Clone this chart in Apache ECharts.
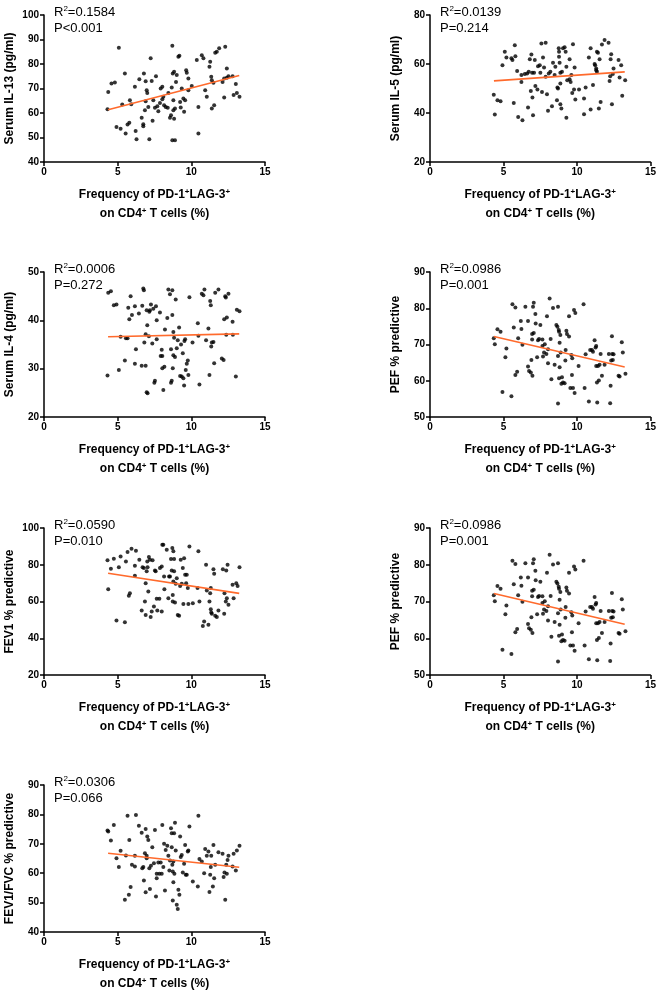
<!DOCTYPE html>
<html>
<head>
<meta charset="utf-8">
<script src="https://cdn.jsdelivr.net/npm/echarts@6/dist/echarts.min.js"></script>
<style>
  html,body{margin:0;padding:0;background:#fff;}
  #main{width:659px;height:993px;}
</style>
</head>
<body>
<div id="main"></div>
<script>
// x = frequency of PD-1+LAG-3+ on CD4+ T cells (%), y = measured value
var il13Pts = [[4.36,68.6],[4.31,61.5],[4.58,72.0],[4.81,72.5],[5.08,86.6],[4.92,54.3],[5.20,53.6],[5.31,63.5],[5.54,51.6],[5.49,76.1],
  [5.67,55.3],[5.79,56.0],[5.83,65.2],[5.92,63.6],[6.17,70.7],[6.22,52.7],[6.28,49.3],[6.47,73.8],[6.63,58.1],[6.74,54.6],
  [6.74,55.4],[6.78,76.1],[6.85,61.1],[6.90,73.0],[6.97,69.3],[7.01,68.2],[6.90,64.8],[7.08,62.5],[7.15,49.3],[7.24,82.3],
  [7.31,73.1],[7.37,56.8],[7.42,65.2],[7.53,62.1],[7.60,75.0],[7.69,62.8],[7.76,60.7],[7.87,64.1],[7.92,70.0],[8.03,70.7],
  [8.03,65.6],[8.10,66.6],[8.15,63.2],[8.26,62.5],[8.40,62.1],[8.44,68.2],[8.55,58.1],[8.62,59.1],[8.67,70.4],[8.71,87.5],
  [8.74,76.1],[8.78,61.1],[8.78,65.2],[8.71,48.9],[8.83,76.8],[8.89,48.9],[8.83,57.7],[8.89,61.8],[8.96,72.7],[9.01,75.5],
  [9.12,83.0],[9.19,83.4],[9.24,64.5],[9.28,62.2],[9.35,70.0],[9.46,65.9],[9.51,60.5],[9.58,65.2],[9.65,77.5],[9.69,76.4],
  [9.80,74.1],[9.80,69.3],[10.03,71.0],[10.37,81.6],[10.48,51.6],[10.48,62.5],[10.71,83.6],[10.82,82.3],[10.94,69.3],[11.05,66.6],
  [11.23,78.9],[11.28,80.9],[11.35,74.8],[11.39,73.4],[11.39,61.8],[11.50,72.3],[11.55,63.2],[11.62,84.6],[11.73,85.0],[11.89,86.4],
  [12.12,72.7],[12.23,74.1],[12.30,87.0],[12.23,66.3],[12.41,74.4],[12.52,75.0],[12.41,78.2],[12.80,75.0],[12.87,67.3],[13.02,71.8],
  [13.09,68.2],[13.27,66.6]];
var il5Pts = [[4.34,47.5],[4.41,39.4],[4.59,45.2],[4.80,44.8],[4.93,59.5],[5.09,65.0],[5.20,62.7],[5.54,62.3],[5.61,61.6],[5.70,44.1],
  [5.77,67.7],[5.81,63.2],[5.93,57.1],[6.00,38.4],[6.22,52.7],[6.22,55.5],[6.29,37.0],[6.45,55.9],[6.61,56.1],[6.67,42.2],
  [6.72,56.8],[6.79,61.9],[6.86,49.0],[6.90,63.9],[6.95,56.4],[6.97,46.3],[7.01,39.1],[7.08,56.4],[7.13,61.6],[7.17,51.0],
  [7.31,49.6],[7.35,59.1],[7.47,59.5],[7.51,56.4],[7.58,68.4],[7.62,48.6],[7.69,62.7],[7.76,58.6],[7.87,68.7],[7.87,54.8],
  [7.96,47.7],[8.03,40.9],[8.08,56.1],[8.19,56.8],[8.30,42.8],[8.37,60.5],[8.48,55.5],[8.53,58.9],[8.64,45.2],[8.67,50.4],
  [8.71,50.0],[8.76,66.4],[8.78,65.0],[8.78,63.0],[8.82,60.5],[8.87,56.4],[8.87,52.0],[8.87,43.6],[8.94,41.8],[8.98,56.8],
  [9.05,66.4],[9.16,66.8],[9.23,65.0],[9.28,58.9],[9.28,38.1],[9.34,53.4],[9.50,53.8],[9.50,61.9],[9.57,52.7],[9.62,55.5],
  [9.68,48.2],[9.73,68.1],[9.80,49.6],[9.84,58.6],[9.89,45.5],[10.14,49.6],[10.48,45.9],[10.48,39.5],[10.59,50.4],[10.81,62.7],
  [10.93,66.4],[10.93,41.4],[11.09,51.4],[11.20,60.0],[11.24,59.5],[11.31,58.2],[11.36,56.8],[11.31,57.5],[11.36,65.0],[11.43,64.6],
  [11.49,41.8],[11.54,61.9],[11.61,44.5],[11.70,68.0],[11.88,69.8],[12.15,68.7],[12.22,53.1],[12.26,55.0],[12.29,61.9],[12.33,64.0],
  [12.38,43.6],[12.44,55.9],[12.49,58.2],[12.83,61.6],[12.90,54.5],[13.01,59.5],[13.08,47.0],[13.28,53.4]];
var il4Pts = [[4.31,28.6],[4.36,45.7],[4.54,46.0],[4.74,43.1],[4.92,43.3],[5.08,29.7],[5.20,36.6],[5.49,31.7],[5.56,36.3],[5.67,36.3],
  [5.72,42.6],[5.79,40.2],[5.88,45.0],[5.97,41.1],[6.17,31.0],[6.17,42.9],[6.24,34.0],[6.44,41.4],[6.63,30.6],[6.67,43.0],
  [6.74,46.6],[6.78,46.2],[6.81,35.4],[6.90,30.6],[6.90,37.1],[6.97,42.1],[6.97,25.1],[7.01,39.0],[7.03,24.9],[7.12,36.7],
  [7.15,41.8],[7.19,42.1],[7.26,43.3],[7.35,35.2],[7.42,42.4],[7.49,27.1],[7.53,27.5],[7.60,42.9],[7.65,40.0],[7.65,36.1],
  [7.87,41.6],[7.92,32.6],[7.99,33.9],[8.03,32.6],[8.03,30.1],[8.10,25.6],[8.17,30.4],[8.21,38.1],[8.37,40.5],[8.44,46.4],
  [8.55,45.4],[8.62,34.0],[8.62,27.1],[8.67,27.5],[8.71,46.2],[8.71,41.1],[8.74,30.1],[8.78,32.8],[8.78,37.6],[8.83,36.4],
  [8.89,32.4],[8.94,44.3],[9.01,34.2],[9.08,35.9],[9.17,38.5],[9.24,28.5],[9.30,35.0],[9.35,28.4],[9.42,33.2],[9.46,28.0],
  [9.51,26.5],[9.53,35.7],[9.58,36.1],[9.62,29.7],[9.69,31.0],[9.76,31.7],[9.80,28.7],[9.87,44.8],[10.08,35.4],[10.44,39.4],
  [10.48,36.8],[10.55,26.7],[10.71,45.5],[10.82,45.2],[10.89,46.4],[11.00,35.9],[11.16,38.3],[11.23,28.7],[11.28,44.0],[11.32,43.1],
  [11.35,34.6],[11.39,35.4],[11.50,35.5],[11.55,31.1],[11.62,45.7],[11.84,46.4],[12.07,32.1],[12.19,31.8],[12.23,40.2],[12.30,45.0],
  [12.34,44.7],[12.37,37.0],[12.41,40.6],[12.52,45.5],[12.80,39.7],[12.82,37.0],[13.02,28.4],[13.09,42.2],[13.27,41.9]];
var pefPts = [[4.34,71.7],[4.41,70.1],[4.59,74.2],[4.80,73.5],[4.93,56.9],[5.13,66.5],[5.20,68.9],[5.54,55.7],[5.61,81.1],[5.70,74.7],
  [5.81,80.2],[5.81,61.6],[5.93,62.5],[6.00,71.7],[6.18,76.5],[6.22,74.3],[6.29,69.9],[6.49,80.4],[6.67,76.5],[6.67,63.9],
  [6.74,62.7],[6.86,62.3],[6.90,65.7],[6.95,72.9],[6.95,71.4],[6.97,61.4],[7.01,80.4],[7.06,81.5],[7.06,73.2],[7.17,78.4],
  [7.19,75.8],[7.29,66.5],[7.35,71.2],[7.42,71.5],[7.51,75.4],[7.65,71.4],[7.65,69.6],[7.69,66.7],[7.76,67.8],[7.81,70.1],
  [7.92,67.4],[7.96,77.8],[8.03,64.8],[8.03,68.7],[8.14,82.7],[8.21,71.5],[8.26,60.4],[8.37,80.1],[8.48,64.4],[8.60,75.4],
  [8.67,74.9],[8.71,80.4],[8.71,66.8],[8.71,53.7],[8.76,74.0],[8.78,73.5],[8.78,60.7],[8.82,70.5],[8.82,63.7],[8.87,72.6],
  [8.89,67.8],[8.94,59.2],[8.98,61.0],[9.05,59.5],[9.16,59.3],[9.21,65.6],[9.23,68.5],[9.28,73.8],[9.32,72.9],[9.46,72.2],
  [9.46,77.8],[9.55,58.0],[9.62,67.1],[9.66,61.6],[9.68,66.2],[9.73,58.0],[9.80,79.5],[9.84,56.6],[9.89,78.7],[10.11,64.1],
  [10.45,81.1],[10.52,58.0],[10.59,67.3],[10.81,54.3],[10.90,68.5],[11.02,68.5],[11.09,68.0],[11.20,71.2],[11.27,69.2],[11.31,69.6],
  [11.31,64.1],[11.36,59.5],[11.38,54.0],[11.43,64.1],[11.49,60.1],[11.54,64.4],[11.61,67.4],[11.70,61.4],[11.88,64.4],[12.17,67.4],
  [12.26,53.8],[12.29,58.6],[12.33,65.6],[12.38,72.3],[12.40,67.4],[12.44,65.7],[12.49,67.3],[12.83,61.4],[12.90,61.2],[13.05,70.6],
  [13.12,67.8],[13.30,61.9]];
var fev1Pts = [[4.31,82.4],[4.36,66.7],[4.54,77.8],[4.74,83.3],[4.92,49.6],[5.08,78.7],[5.20,84.5],[5.49,48.7],[5.56,81.8],[5.67,86.9],
  [5.76,63.1],[5.83,64.5],[5.94,88.7],[6.17,79.5],[6.17,74.0],[6.24,87.6],[6.47,82.7],[6.63,55.1],[6.69,78.7],[6.78,78.2],
  [6.85,60.0],[6.90,70.0],[6.90,52.7],[6.97,76.4],[7.01,81.8],[7.03,78.7],[7.08,65.5],[7.12,84.2],[7.19,82.7],[7.24,51.5],
  [7.31,54.5],[7.37,82.4],[7.46,57.3],[7.53,76.9],[7.58,76.4],[7.65,61.5],[7.69,55.1],[7.83,61.5],[7.87,78.2],[7.99,79.1],
  [7.99,54.5],[8.03,90.9],[8.10,90.9],[8.15,73.6],[8.17,66.7],[8.33,88.2],[8.44,61.8],[8.49,73.6],[8.55,73.6],[8.62,83.1],
  [8.67,76.9],[8.71,89.1],[8.74,60.0],[8.74,63.6],[8.78,87.3],[8.78,70.9],[8.83,83.1],[8.83,76.4],[8.89,59.5],[8.94,69.6],
  [9.01,72.7],[9.08,52.7],[9.17,52.2],[9.24,68.5],[9.28,82.7],[9.35,69.6],[9.42,78.2],[9.46,58.7],[9.51,83.6],[9.58,74.5],
  [9.65,70.0],[9.69,74.5],[9.76,67.3],[9.80,58.7],[9.87,90.0],[10.10,59.1],[10.42,67.3],[10.48,87.3],[10.55,60.0],[10.78,46.7],
  [10.87,49.1],[11.00,80.0],[11.05,66.0],[11.16,47.3],[11.23,60.0],[11.28,64.5],[11.32,67.3],[11.32,55.8],[11.35,54.0],[11.39,53.3],
  [11.50,77.6],[11.55,75.1],[11.62,52.2],[11.73,51.5],[11.84,55.1],[12.14,77.6],[12.23,53.3],[12.25,64.5],[12.34,60.0],[12.37,76.9],
  [12.41,61.8],[12.46,80.0],[12.52,58.2],[12.80,69.1],[12.87,61.8],[13.05,70.0],[13.14,68.5],[13.27,78.7]];
var ratioPts = [[4.31,74.5],[4.36,74.2],[4.54,71.1],[4.74,76.4],[4.92,65.1],[5.08,62.1],[5.20,67.6],[5.49,51.0],[5.56,66.0],[5.67,79.5],
  [5.76,52.7],[5.79,71.3],[5.88,55.3],[5.97,62.9],[6.17,62.3],[6.17,65.9],[6.24,79.8],[6.44,76.1],[6.63,73.8],[6.67,61.7],
  [6.74,62.1],[6.78,57.5],[6.85,66.8],[6.90,75.0],[6.90,53.5],[6.97,65.9],[6.97,65.1],[7.01,72.5],[7.08,71.3],[7.15,61.7],
  [7.19,54.6],[7.26,62.5],[7.35,68.8],[7.46,63.4],[7.53,74.7],[7.60,52.1],[7.65,58.3],[7.65,59.8],[7.76,63.6],[7.83,59.8],
  [7.92,63.6],[7.99,59.8],[8.03,76.4],[8.10,62.1],[8.15,70.0],[8.21,54.1],[8.26,67.9],[8.37,69.3],[8.44,65.9],[8.51,60.9],
  [8.55,64.3],[8.62,75.3],[8.67,73.6],[8.67,68.8],[8.71,62.9],[8.74,60.6],[8.74,50.7],[8.78,56.9],[8.78,64.0],[8.83,73.6],
  [8.85,59.8],[8.89,77.2],[8.94,67.7],[9.01,49.3],[9.08,47.8],[9.12,54.4],[9.19,52.7],[9.24,72.5],[9.28,65.5],[9.35,66.2],
  [9.42,60.2],[9.51,63.2],[9.58,69.6],[9.62,59.5],[9.69,59.5],[9.76,67.4],[9.80,67.7],[9.87,75.9],[10.10,57.2],[10.44,55.5],
  [10.48,79.5],[10.55,64.8],[10.71,64.0],[10.87,60.0],[10.94,68.2],[11.05,65.9],[11.16,67.4],[11.23,53.6],[11.28,59.5],[11.32,62.1],
  [11.35,65.9],[11.46,55.5],[11.50,69.6],[11.55,58.3],[11.62,62.9],[11.84,67.1],[12.12,66.6],[12.19,58.7],[12.25,60.2],[12.30,51.0],
  [12.37,62.9],[12.41,59.8],[12.46,64.5],[12.52,65.9],[12.80,62.3],[12.87,66.6],[13.02,60.9],[13.09,67.7],[13.27,69.3]];

// regression line end points
var il13Fit = [[4.35,61.3],[13.25,75.3]];
var il5Fit = [[4.35,53.1],[13.25,56.8]];
var il4Fit = [[4.35,36.6],[13.25,37.2]];
var pefFit = [[4.35,72.2],[13.25,63.8]];
var fev1Fit = [[4.35,75.4],[13.25,64.4]];
var ratioFit = [[4.35,66.8],[13.25,62.0]];

var xTicks = [0, 15, 5];   // min, max, interval
var panels = [
  {pts: il13Pts, fit: il13Fit, yName: 'Serum IL-13 (pg/ml)', yMin: 40, yMax: 100, yStep: 10, r2: '0.1584', p: 'P<0.001'},
  {pts: il5Pts, fit: il5Fit, yName: 'Serum IL-5 (pg/ml)', yMin: 20, yMax: 80, yStep: 20, r2: '0.0139', p: 'P=0.214'},
  {pts: il4Pts, fit: il4Fit, yName: 'Serum IL-4 (pg/ml)', yMin: 20, yMax: 50, yStep: 10, r2: '0.0006', p: 'P=0.272'},
  {pts: pefPts, fit: pefFit, yName: 'PEF % predictive', yMin: 50, yMax: 90, yStep: 10, r2: '0.0986', p: 'P=0.001'},
  {pts: fev1Pts, fit: fev1Fit, yName: 'FEV1 % predictive', yMin: 20, yMax: 100, yStep: 20, r2: '0.0590', p: 'P=0.010'},
  {pts: pefPts, fit: pefFit, yName: 'PEF % predictive', yMin: 50, yMax: 90, yStep: 10, r2: '0.0986', p: 'P=0.001'},
  {pts: ratioPts, fit: ratioFit, yName: 'FEV1/FVC % predictive', yMin: 40, yMax: 90, yStep: 10, r2: '0.0306', p: 'P=0.066'}
];

// plot boxes [left, top, height]
var boxes = [[44,15,147],[430,15,147],[44,272,145],[430,272,145],[44,528,147],[430,528,147],[44,785,147]];
var plotW = 221;

var bold = 'bold';
var fam = 'Liberation Sans, Arial, sans-serif';
var xName = '{a|Frequency of PD-1}{s|+}{a|LAG-3}{s|+}\n{a|on CD4}{s|+}{a| T cells (%)}';

var grids = [], xAxes = [], yAxes = [], series = [], titles = [];
panels.forEach(function(pn, i){
  var b = boxes[i];
  grids.push({left: b[0], top: b[1], width: plotW, height: b[2], containLabel: false});
  xAxes.push({
    gridIndex: i, type: 'value', min: xTicks[0], max: xTicks[1], interval: xTicks[2],
    axisLine: {lineStyle: {color: '#000', width: 1.5}},
    axisTick: {length: 4, lineStyle: {color: '#000', width: 1.5}},
    axisLabel: {color: '#000', fontSize: 10, fontWeight: bold, fontFamily: fam, margin: 5},
    splitLine: {show: false},
    name: xName, nameLocation: 'middle', nameGap: 23,
    nameTextStyle: {
      rich: {
        a: {fontSize: 12, fontWeight: bold, fontFamily: fam, color: '#000', lineHeight: 19},
        s: {fontSize: 8, fontWeight: bold, fontFamily: fam, color: '#000', lineHeight: 19, verticalAlign: 'top', padding: [3,0,0,0]}
      }
    }
  });
  yAxes.push({
    gridIndex: i, type: 'value', min: pn.yMin, max: pn.yMax, interval: pn.yStep,
    axisLine: {show: true, lineStyle: {color: '#000', width: 1.5}},
    axisTick: {show: true, length: 4, lineStyle: {color: '#000', width: 1.5}},
    axisLabel: {color: '#000', fontSize: 10, fontWeight: bold, fontFamily: fam, margin: 5},
    splitLine: {show: false},
    name: pn.yName, nameLocation: 'middle', nameGap: 28,
    nameTextStyle: {fontSize: 12, fontWeight: bold, fontFamily: fam, color: '#000'}
  });
  series.push({
    type: 'scatter', xAxisIndex: i, yAxisIndex: i, data: pn.pts,
    symbol: 'circle', symbolSize: 4, itemStyle: {color: '#000'}, silent: true
  });
  series.push({
    type: 'line', xAxisIndex: i, yAxisIndex: i, data: pn.fit,
    symbol: 'none', lineStyle: {color: '#ff6a2c', width: 1.6}, silent: true, z: 3
  });
  titles.push({
    left: b[0] + 10, top: b[1] - 11, padding: 0,
    text: '{r|R}{s|2}{r|=' + pn.r2 + '}\n{r|' + pn.p + '}',
    textStyle: {
      fontWeight: 'normal', fontSize: 13, fontFamily: fam, color: '#000',
      rich: {
        r: {fontSize: 13, fontWeight: 'normal', fontFamily: fam, color: '#000', lineHeight: 16},
        s: {fontSize: 8, fontWeight: 'normal', fontFamily: fam, color: '#000', lineHeight: 16, verticalAlign: 'top', padding: [1,0,0,0]}
      }
    }
  });
});

var myChart = echarts.init(document.getElementById('main'), null, {renderer: 'canvas'});
myChart.setOption({
  animation: false,
  backgroundColor: '#fff',
  title: titles,
  grid: grids,
  xAxis: xAxes,
  yAxis: yAxes,
  series: series
});
</script>
</body>
</html>
